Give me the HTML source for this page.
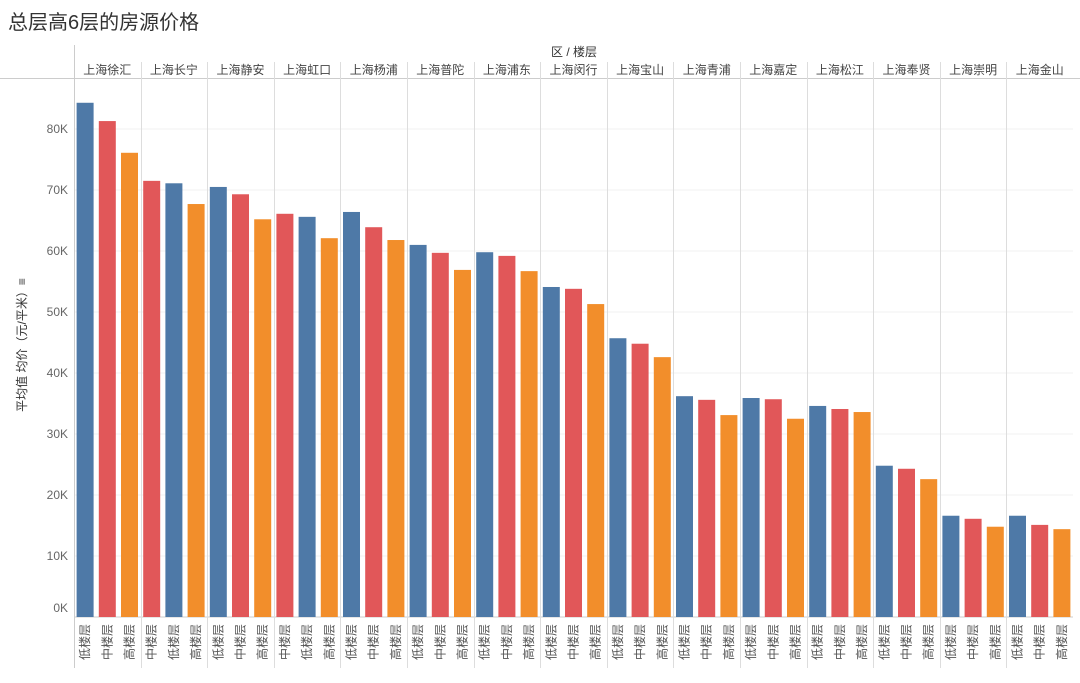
<!DOCTYPE html>
<html><head><meta charset="utf-8"><style>
body{margin:0;background:#fff;width:1080px;height:678px;overflow:hidden;font-family:"Liberation Sans","Noto Sans CJK SC",sans-serif;}
svg text{font-family:"Liberation Sans","Noto Sans CJK SC",sans-serif;}
</style></head><body>
<svg id="c" width="1080" height="678">
<text x="8" y="29" font-size="20" fill="#333">总层高6层的房源价格</text>
<text x="574" y="56" font-size="12" fill="#333" text-anchor="middle">区 / 楼层</text>
<text transform="translate(26,345) rotate(-90)" font-size="12" fill="#333" text-anchor="middle">平均值 均价（元/平米）≡</text>
<g id="g"></g>
</svg>
<script>
const districts=["上海徐汇","上海长宁","上海静安","上海虹口","上海杨浦","上海普陀","上海浦东","上海闵行","上海宝山","上海青浦","上海嘉定","上海松江","上海奉贤","上海崇明","上海金山"];
const floors=[["低楼层","中楼层","高楼层"],["中楼层","低楼层","高楼层"],["低楼层","中楼层","高楼层"],["中楼层","低楼层","高楼层"],["低楼层","中楼层","高楼层"],["低楼层","中楼层","高楼层"],["低楼层","中楼层","高楼层"],["低楼层","中楼层","高楼层"],["低楼层","中楼层","高楼层"],["低楼层","中楼层","高楼层"],["低楼层","中楼层","高楼层"],["低楼层","中楼层","高楼层"],["低楼层","中楼层","高楼层"],["低楼层","中楼层","高楼层"],["低楼层","中楼层","高楼层"]];
const values=[[84300,81300,76100],[71500,71100,67700],[70500,69300,65200],[66100,65600,62100],[66400,63900,61800],[61000,59700,56900],[59800,59200,56700],[54100,53800,51300],[45700,44800,42600],[36200,35600,33100],[35900,35700,32500],[34600,34100,33600],[24800,24300,22600],[16600,16100,14800],[16600,15100,14400]];
const yTicks=[0,10000,20000,30000,40000,50000,60000,70000,80000];
const tickLabels=["0K","10K","20K","30K","40K","50K","60K","70K","80K"];
const colors={"低楼层":"#4e79a7","中楼层":"#e15759","高楼层":"#f28e2b"};
const L=74,R=1073,B=617,K=0.0061;
const y=v=>B-v*K;
const gw=(R-L)/districts.length;
const xg=i=>L+i*gw;
const g=document.getElementById('g');
const NS="http://www.w3.org/2000/svg";
function mk(t,a,txt){const e=document.createElementNS(NS,t);for(const k in a)e.setAttribute(k,a[k]);if(txt!==undefined)e.textContent=txt;g.appendChild(e);return e;}
yTicks.forEach((t,i)=>{
 const gl=mk('line',{x1:L,x2:R,y1:y(t),y2:y(t),stroke:t===0?'#ccc':'#f0f0f0'});
 
 
 const tl=mk('text',{x:68,y:(t===0?y(t)-9:y(t))+4,'font-size':12,fill:'#666','text-anchor':'end'},tickLabels[i]);
 
 
});
const hl=mk('line',{x1:0,x2:1080,y1:78.5,y2:78.5,stroke:'#ccc'});


const al=mk('line',{x1:L+.5,x2:L+.5,y1:45,y2:668,stroke:'#ccc'});


districts.forEach((d,i)=>{
 const x0=xg(i);
 if(i>0){const s=mk('line',{x1:Math.round(x0)+.5,x2:Math.round(x0)+.5,y1:62,y2:668,stroke:'#ddd'});
 
 }
 const h=mk('text',{x:x0+gw/2,y:74,'font-size':12,fill:'#444','text-anchor':'middle'},d);
 
 
 const sw=gw/3;
 values[i].forEach((v,j)=>{
  const cx=x0+sw*j+sw/2;
  const f=floors[i][j];
  const r=mk('rect',{x:cx-8.5,y:y(v),width:17,height:B-y(v),fill:colors[f]});
  
  
  const t=mk('text',{transform:`translate(${cx+4},642) rotate(-90)`,'font-size':12,fill:'#555','text-anchor':'middle'},f);
  
  
 });
});
</script>
</body></html>
